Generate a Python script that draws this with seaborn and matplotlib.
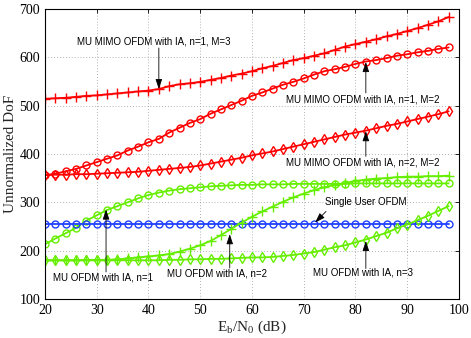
import numpy as np
import pandas as pd
import matplotlib
matplotlib.use("Agg")
import matplotlib.pyplot as plt
import seaborn as sns

snr = list(range(20, 100, 2))

mimo_n1_m3 = [514, 515, 516, 518, 520, 521, 523, 525, 527, 529, 531, 534, 540, 544, 546, 549,
              553, 557, 562, 566, 571, 577, 582, 588, 594, 598, 603, 608, 615, 622, 627, 632,
              637, 643, 648, 654, 660, 667, 674, 683]
mimo_n1_m2 = [356, 359, 364, 369, 376, 383, 390, 397, 407, 415, 424, 431, 444, 454, 464, 472,
              483, 492, 501, 510, 520, 527, 535, 543, 549, 556, 564, 571, 575, 580, 586, 591,
              594, 598, 603, 606, 610, 613, 617, 620]
mimo_n2_m2 = [356, 357, 357, 358, 358, 359, 360, 361, 362, 363, 365, 367, 369, 371, 373, 376,
              380, 384, 388, 392, 397, 401, 405, 410, 415, 420, 425, 430, 435, 440, 444, 448,
              453, 458, 462, 467, 472, 477, 482, 488]
mu_n1 = [213, 225, 236, 247, 262, 273, 284, 292, 300, 308, 315, 320, 324, 327, 329, 331,
         333, 334, 335, 336, 336, 337, 337, 337, 338, 338, 338, 338, 338, 338, 339, 339,
         339, 339, 339, 339, 339, 339, 339, 339]
single_user = [256] * 40
mu_n2 = [180, 180, 180, 180, 181, 181, 181, 182, 184, 186, 188, 190, 193, 198, 204, 211,
         220, 232, 245, 258, 270, 281, 291, 301, 310, 318, 325, 331, 336, 340, 344, 347,
         349, 350, 352, 353, 353, 354, 354, 355]
mu_n3 = [180, 180, 180, 180, 180, 180, 180, 180, 180, 180, 180, 180, 181, 181, 182, 182,
         183, 183, 184, 185, 186, 186, 187, 189, 191, 194, 197, 202, 207, 211, 217, 223,
         230, 237, 246, 254, 263, 272, 282, 292]

x_ticks = [20, 30, 40, 50, 60, 70, 80, 90, 100]
y_ticks = [100, 200, 300, 400, 500, 600, 700]

RED = "#FF0000"
GREEN = "#66EE00"
BLUE = "#2040FF"

series = [
    ("MU MIMO n1 M3", mimo_n1_m3, RED, "+"),
    ("MU MIMO n1 M2", mimo_n1_m2, RED, "o"),
    ("MU MIMO n2 M2", mimo_n2_m2, RED, "d"),
    ("MU n1", mu_n1, GREEN, "o"),
    ("Single", single_user, BLUE, "o"),
    ("MU n2", mu_n2, GREEN, "+"),
    ("MU n3", mu_n3, GREEN, "d"),
]

rows = []
for name, vals, c, m in series:
    for xv, yv in zip(snr, vals):
        rows.append({"snr": xv, "dof": yv, "series": name})
df = pd.DataFrame(rows)

sns.set_style("white")
plt.rcParams["font.family"] = ["Liberation Serif", "DejaVu Serif"]

fig = plt.figure(figsize=(4.71, 3.38), dpi=100)
ax = fig.add_axes([0.0955, 0.1154, 0.879, 0.8586])

for name, vals, c, m in series:
    sub = df[df["series"] == name]
    ms = 6.5 if m == "+" else (5.0 if m == "o" else 5.0)
    sns.lineplot(data=sub, x="snr", y="dof", ax=ax, color=c, marker=m,
                 markersize=ms, markerfacecolor="none", markeredgecolor=c,
                 markeredgewidth=1.0, linewidth=1.3, legend=False, errorbar=None)

ax.set_xlim(20, 100)
ax.set_ylim(100, 700)
ax.set_xticks(x_ticks)
ax.set_yticks(y_ticks)
ax.grid(True, linestyle=(0, (1, 2.5)), color="#999999", linewidth=0.6)
ax.tick_params(direction="in", length=3, top=True, right=True, labelsize=10, width=0.6,
               colors="black")
for s in ax.spines.values():
    s.set_linewidth(0.8)
    s.set_color("black")
ax.set_xlabel(r"E$_\mathregular{b}$/N$_\mathregular{0}$ (dB)", fontsize=11, labelpad=1)
ax.set_ylabel("Unnormalized DoF", fontsize=11, labelpad=2)

afont = dict(fontsize=7, family="Liberation Sans", color="black")
arrow = dict(arrowstyle="-|>,head_length=0.6,head_width=0.2", color="black", lw=0.6,
             shrinkA=0, shrinkB=0)

ax.annotate("", xy=(42, 534), xytext=(42, 619), arrowprops=arrow)
ax.text(26.1, 632, "MU MIMO OFDM with IA, n=1, M=3", ha="left", va="center", **afont)

ax.annotate("", xy=(82, 590), xytext=(82, 526), arrowprops=arrow)
ax.text(66.5, 513, "MU MIMO OFDM with IA, n=1, M=2", ha="left", va="center", **afont)

ax.annotate("", xy=(82, 447), xytext=(82, 395), arrowprops=arrow)
ax.text(66.5, 383, "MU MIMO OFDM with IA, n=2, M=2", ha="left", va="center", **afont)

ax.annotate("", xy=(72.2, 258), xytext=(74.3, 281), arrowprops=arrow)
ax.text(74.2, 300, "Single User OFDM", ha="left", va="center", **afont)

ax.annotate("", xy=(82, 220), xytext=(82, 163), arrowprops=arrow)
ax.text(71.8, 154, "MU OFDM with IA, n=3", ha="left", va="center", **afont)

ax.annotate("", xy=(31.8, 285), xytext=(31.8, 156), arrowprops=arrow)
ax.text(21.6, 144, "MU OFDM with IA, n=1", ha="left", va="center", **afont)

ax.annotate("", xy=(55.7, 234), xytext=(55.7, 164), arrowprops=arrow)
ax.text(43.5, 152, "MU OFDM with IA, n=2", ha="left", va="center", **afont)

fig.savefig("out.png", dpi=100)
